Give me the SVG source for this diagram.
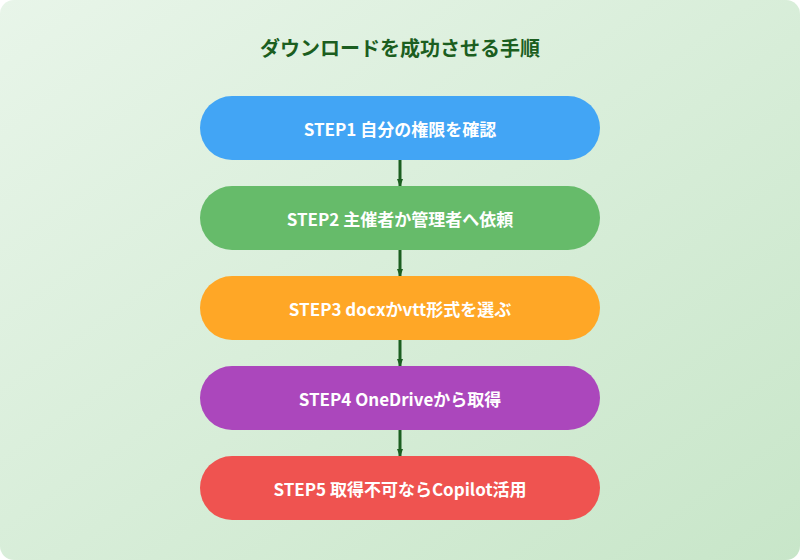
<svg xmlns="http://www.w3.org/2000/svg" width="800" height="560" viewBox="0 0 800 560">
<defs>
<linearGradient id="bg" x1="0" y1="0" x2="1" y2="1"><stop offset="0" stop-color="#e8f5e9"/><stop offset="1" stop-color="#c8e6c9"/></linearGradient>
<marker id="ah" markerWidth="8" markerHeight="6" refX="7" refY="3" orient="auto" markerUnits="userSpaceOnUse"><path d="M0,0 L8,3 L0,6 Z" fill="#1b5e20"/></marker>
<style>
.t{font-family:"Noto Sans CJK JP","Noto Sans",sans-serif;font-weight:bold;fill:#fff;font-size:17px;text-anchor:middle;dominant-baseline:central}
.c{stroke:#1b5e20;stroke-width:3;fill:none}
</style>
</defs>
<rect width="800" height="560" rx="14" fill="url(#bg)"/>
<text x="400" y="47" font-family="'Noto Sans CJK JP',sans-serif" font-weight="bold" font-size="20" fill="#1b5e20" text-anchor="middle" dominant-baseline="central">ダウンロードを成功させる手順</text>
<g id="connectors">
<line class="c" x1="400" y1="160" x2="400" y2="186" marker-end="url(#ah)"/>
<line class="c" x1="400" y1="250" x2="400" y2="276" marker-end="url(#ah)"/>
<line class="c" x1="400" y1="340" x2="400" y2="366" marker-end="url(#ah)"/>
<line class="c" x1="400" y1="430" x2="400" y2="456" marker-end="url(#ah)"/>
</g>
<g id="step1"><rect x="200" y="96" width="400" height="64" rx="32" fill="#42a5f5"/><text class="t" x="400" y="128">STEP1 自分の権限を確認</text></g>
<g id="step2"><rect x="200" y="186" width="400" height="64" rx="32" fill="#66bb6a"/><text class="t" x="400" y="218">STEP2 主催者か管理者へ依頼</text></g>
<g id="step3"><rect x="200" y="276" width="400" height="64" rx="32" fill="#ffa726"/><text class="t" x="400" y="308">STEP3 docxかvtt形式を選ぶ</text></g>
<g id="step4"><rect x="200" y="366" width="400" height="64" rx="32" fill="#ab47bc"/><text class="t" x="400" y="398">STEP4 OneDriveから取得</text></g>
<g id="step5"><rect x="200" y="456" width="400" height="64" rx="32" fill="#ef5350"/><text class="t" x="400" y="488">STEP5 取得不可ならCopilot活用</text></g>
</svg>
